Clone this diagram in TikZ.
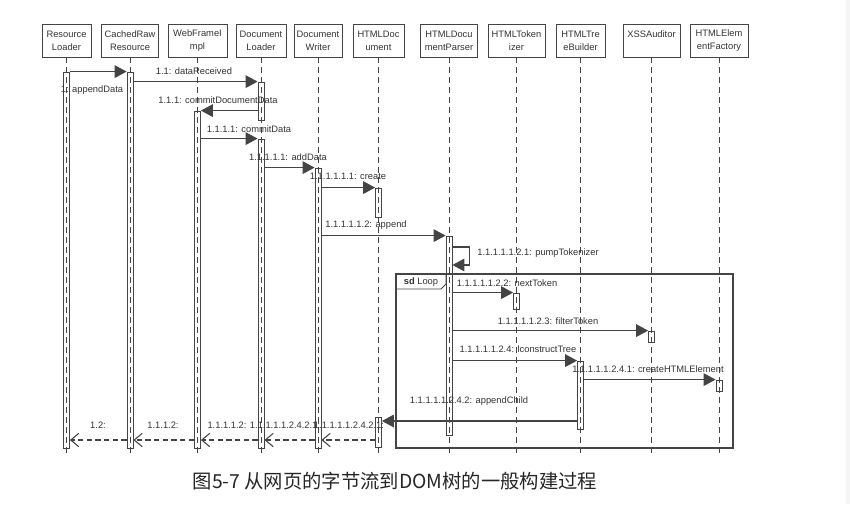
\documentclass[tikz,border=0pt]{standalone}
\usepackage{fontspec}
\setmainfont{Liberation Sans}
\newfontfamily\cjk{Noto Sans CJK SC}
\usetikzlibrary{arrows.meta,fit,calc}
\definecolor{ln}{HTML}{444444}
\definecolor{tx}{HTML}{333333}
\tikzset{
  head/.style={draw=ln, line width=0.7pt, minimum height=24.75pt, align=center, inner sep=1pt},
  life/.style={ln, line width=0.7pt, dash pattern=on 4.5pt off 3pt},
  actbar/.style={draw=ln, line width=0.6pt, inner sep=0pt},
  msg/.style={ln, line width=0.8pt, -{Triangle[length=9pt,width=9.5pt]}},
  ret/.style={ln, line width=0.8pt, dash pattern=on 4pt off 2.5pt, -{Straight Barb[length=6pt,width=10pt]}},
  lbl/.style={inner sep=0pt}
}
\begin{document}
\begin{tikzpicture}[x=0.75pt,y=-0.75pt,font=\fontsize{7}{10}\selectfont,text=tx]
\useasboundingbox (0,0) rectangle (850,504);
\fill[black!4] (846,0) rectangle (850,504);
% objects
\foreach \n/\x/\w/\t in {rl/66.5/49/{Resource\\Loader}, cr/130/57/{CachedRaw\\Resource},
    wf/197.5/59/{WebFrameI\\mpl}, dl/261/50/{Document\\Loader}, dw/318/48/{Document\\Writer},
    hd/378.5/51/{HTMLDoc\\ument}, hp/449/57/{HTMLDocu\\mentParser}, tk/516.5/57/{HTMLToken\\izer},
    tb/580.5/49/{HTMLTre\\eBuilder}, xa/651.5/57/{XSSAuditor\\\mbox{}}, ef/719/58/{HTMLElem\\entFactory}}
  \node[head, minimum width=\w*0.75pt] (\n) at (\x,40.5) {\t};
\foreach \n in {rl,cr,wf,dl,dw,hd,hp,tk,tb,xa,ef}
  \draw[life] (\n.south) -- (\n.south |- 0,455);
% activations
\foreach \b/\n/\a/\z in {rlA/rl/72/448, crA/cr/72/448, wfA/wf/111/448, dlA/dl/82/120, dlB/dl/139/448,
    dwA/dw/168/448, hdA/hd/188/217, hdB/hd/417/447, hpA/hp/236/435, tkA/tk/293/309,
    xaA/xa/331/342, tbA/tb/361/429, efA/ef/380/391}
  \node[actbar, fit={($(\n.south |- 0,\a)+(-3,0)$) ($(\n.south |- 0,\z)+(3,0)$)}] (\b) {};
% loop frame
\draw[ln, line width=0.8pt] (396,274) rectangle (733,448);
\draw[ln, line width=0.7pt] (396,289) -- (441,289) -- (446,284) -- (446,274);
\node[lbl] (sd) at (421,282) {\textbf{sd} Loop};
% calls
\foreach \s/\d in {rlA/crA, crA/dlA, wfA/dlB, dlB/dwA, dwA/hdA, dwA/hpA, hpA/tkA, hpA/xaA, hpA/tbA, tbA/efA}
  \draw[msg] (\s.east |- \d.north) -- (\d.north west);
\draw[msg] (dlA.west |- wfA.north) -- (wfA.north east);
\draw[msg] (hpA.east |- 0,247) -- ++(17,0) -- ++(0,18) -- (hpA.east |- 0,265);
\draw[msg] (tbA.west |- 0,421) -- (hdB.east |- 0,421);
% returns
\foreach \s/\d in {crA/rlA, wfA/crA, dlB/wfA, dwA/dlB, hdB/dwA}
  \draw[ret] (\s.west |- 0,440) -- (\d.east |- 0,440);
% labels
\foreach \n/\x/\y/\t in {l1/92/90/{1: appendData}, l2/194/71/{1.1: dataReceived},
    l3/218/100/{1.1.1: commitDocumentData}, l4/249/129/{1.1.1.1: commitData},
    l5/288/157/{1.1.1.1.1: addData}, l6/348/176/{1.1.1.1.1.1: create},
    l7/366/225/{1.1.1.1.1.2: append}, l8/538/253/{1.1.1.1.1.2.1: pumpTokenizer},
    l9/507/283/{1.1.1.1.1.2.2: nextToken}, l10/548/321/{1.1.1.1.1.2.3: filterToken},
    l11/518/349/{1.1.1.1.1.2.4: lconstructTree}, l12/648/369/{1.1.1.1.1.2.4.1: createHTMLElement},
    l13/469/401/{1.1.1.1.1.2.4.2: appendChild},
    r1/98/425/{1.2:}, r2/163/425/{1.1.1.2:}, r3/227/425/{1.1.1.1.2:},
    r4/285/425/{1.1.1.1.1.2.4.2.1:}, r5/349/425/{1.1.1.1.1.2.4.2.1:}}
  \node[lbl] (\n) at (\x,\y) {\t};
\node[font=\cjk\fontsize{14.5}{16}\selectfont, text=black!85] (cap) at (395,481) {图5-7 从网页的字节流到DOM树的一般构建过程};
\end{tikzpicture}
\end{document}
